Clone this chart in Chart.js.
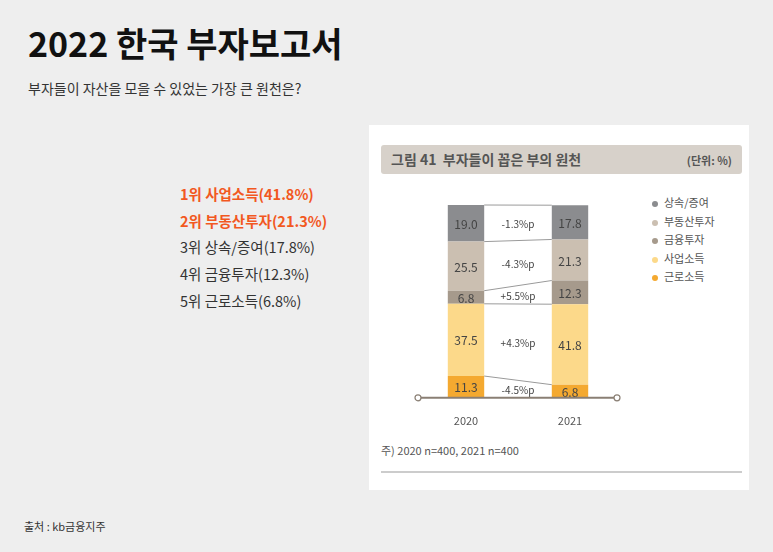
<!DOCTYPE html>
<html><head><meta charset="utf-8">
<script src="https://cdn.jsdelivr.net/npm/chart.js@4"></script>
<style>
body{margin:0;width:773px;height:552px;background:#eeeeee;font-family:"Noto Sans CJK KR","Noto Sans",sans-serif;position:relative;overflow:hidden;color:#222}
.abs{position:absolute;white-space:nowrap}
#title{left:28px;top:18px;font-size:34px;font-weight:bold;color:#111}
#sub{left:28px;top:78px;font-size:14px;color:#333}
.li{left:180px;font-size:14.5px;color:#333}
.hi{color:#f2581f;font-weight:bold}
#src{left:24px;top:518px;font-size:11px;color:#333}
#box{left:369px;top:125px;width:380px;height:365px;background:#fff}
#hdr{left:381px;top:145px;width:361px;height:29px;background:#d7d1ca;border-radius:3px}
#hdr span{position:absolute;top:4px;font-weight:bold;color:#555}
#note{left:381px;top:442px;font-size:11px;color:#555}
#rule{left:381px;top:471px;width:361px;height:2px;background:#ccc}
.lg{left:652px;font-size:11px;color:#555}
.lg i{display:inline-block;width:6px;height:6px;border-radius:3px;margin-right:6px;vertical-align:middle}
#wrap{left:410px;top:190px;width:240px;height:245px}
</style></head><body>
<div id="title" class="abs">2022 한국 부자보고서</div>
<div id="sub" class="abs">부자들이 자산을 모을 수 있었는 가장 큰 원천은?</div>
<div class="abs li hi" style="top:183px">1위 사업소득(41.8%)</div>
<div class="abs li hi" style="top:210px">2위 부동산투자(21.3%)</div>
<div class="abs li" style="top:236px">3위 상속/증여(17.8%)</div>
<div class="abs li" style="top:263px">4위 금융투자(12.3%)</div>
<div class="abs li" style="top:290px">5위 근로소득(6.8%)</div>
<div id="src" class="abs">출처 : kb금융지주</div>
<div id="box" class="abs"></div>
<div id="hdr" class="abs"><span style="left:10px;font-size:14px">그림 41&nbsp;&nbsp;부자들이 꼽은 부의 원천</span><span style="right:10px;font-size:11px;top:7px">(단위: %)</span></div>
<div id="legend"></div>
<div id="note" class="abs">주) 2020 n=400, 2021 n=400</div>
<div id="rule" class="abs"></div>
<div id="wrap" class="abs"><canvas id="c"></canvas></div>
<script>
const years=['2020','2021'];
const seriesNames=['근로소득','사업소득','금융투자','부동산투자','상속/증여'];
const colors=['#f4a930','#fcd98a','#a69a8c','#cbbfb1','#8b8c8f'];
const v2020=[11.3,37.5,6.8,25.5,19.0];
const v2021=[6.8,41.8,12.3,21.3,17.8];
const changes=['-4.5%p','+4.3%p','+5.5%p','-4.3%p','-1.3%p'];

const lg=document.getElementById('legend');
seriesNames.slice().reverse().forEach((n,i)=>{
  const c=colors[seriesNames.length-1-i];
  const d=document.createElement('div');d.className='abs lg';d.style.top=(194+i*18.5)+'px';
  d.innerHTML='<i style="background:'+c+'"></i>'+n;lg.appendChild(d);
});

const deco={id:'deco',afterDatasetsDraw(ch){
  const ctx=ch.ctx,x=ch.scales.x,y=ch.scales.y;
  const m0=ch.getDatasetMeta(0).data;
  const hw=m0[0].width/2;
  const xL=x.getPixelForValue(0)+hw, xR=x.getPixelForValue(1)-hw;
  ctx.save();
  ctx.strokeStyle='#9a9a9a';ctx.lineWidth=1;
  let c0=0,c1=0;
  ctx.textAlign='center';ctx.textBaseline='middle';
  for(let i=0;i<seriesNames.length;i++){
    const b0=c0,b1=c1;c0+=v2020[i];c1+=v2021[i];
    ctx.beginPath();ctx.moveTo(xL,y.getPixelForValue(c0));ctx.lineTo(xR,y.getPixelForValue(c1));ctx.stroke();
    ctx.fillStyle='#444';ctx.font='12px "Noto Sans CJK KR"';
    ctx.fillText(v2020[i].toFixed(1),x.getPixelForValue(0),y.getPixelForValue((b0+c0)/2)+1);
    ctx.fillText(v2021[i].toFixed(1),x.getPixelForValue(1),y.getPixelForValue((b1+c1)/2)+1);
    ctx.font='10px "Noto Sans CJK KR"';
    ctx.fillText(changes[i],(xL+xR)/2,y.getPixelForValue((b0+c0+b1+c1)/4)+1);
  }
  const by=y.getPixelForValue(0);
  ctx.strokeStyle='#8a7f74';ctx.lineWidth=2;
  ctx.beginPath();ctx.moveTo(ch.chartArea.left+4,by);ctx.lineTo(ch.chartArea.right-5,by);ctx.stroke();
  ctx.lineWidth=1.2;ctx.fillStyle='#fff';
  [ch.chartArea.left+4,ch.chartArea.right-5].forEach(px=>{ctx.beginPath();ctx.arc(px,by,3,0,Math.PI*2);ctx.fill();ctx.stroke();});
  ctx.restore();
}};

new Chart(document.getElementById('c'),{
  type:'bar',
  data:{labels:years,datasets:seriesNames.map((n,i)=>({label:n,data:[v2020[i],v2021[i]],backgroundColor:colors[i],borderWidth:0}))},
  options:{responsive:true,maintainAspectRatio:false,animation:false,
    layout:{padding:{left:4,right:28,top:15}},
    datasets:{bar:{barPercentage:0.35,categoryPercentage:1}},
    plugins:{legend:{display:false},tooltip:{enabled:false}},
    scales:{
      x:{stacked:true,grid:{display:false},border:{display:false},ticks:{color:'#555',font:{size:11,family:'"Noto Sans CJK KR"'},padding:8}},
      y:{stacked:true,display:false,min:0,max:100.1}
    }},
  plugins:[deco]
});
</script>
</body></html>
